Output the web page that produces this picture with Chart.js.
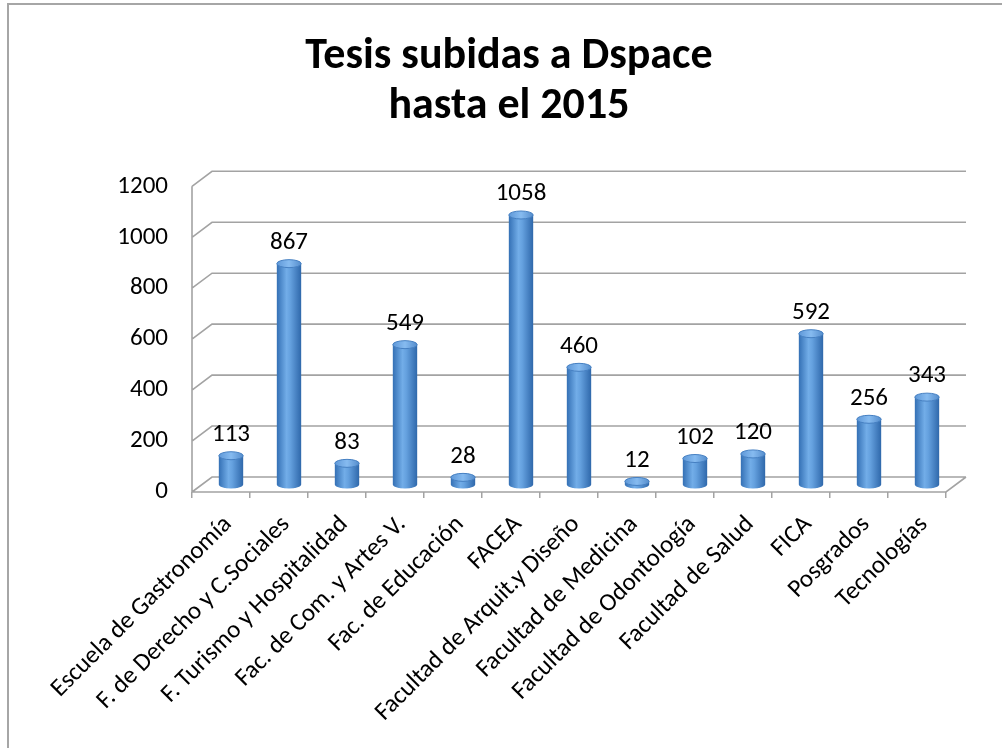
<!DOCTYPE html>
<html>
<head>
<meta charset="utf-8">
<script src="https://cdn.jsdelivr.net/npm/chart.js@4.4.1/dist/chart.umd.min.js"></script>
<style>
  html, body { margin: 0; padding: 0; background: #fff; }
  #wrap { position: relative; width: 1002px; height: 748px; overflow: hidden; }
  #marco { position: absolute; left: 7px; top: 3px; right: -5px; bottom: -5px;
           border-left: 2px solid #a6a6a6; border-top: 2px solid #a6a6a6; }
  canvas { position: absolute; left: 0; top: 0; }
</style>
</head>
<body>
<div id="wrap">
  <div id="marco"></div>
  <canvas id="grafico" width="1002" height="748"></canvas>
</div>
<script>
// datos
const facultades = [
  "Escuela de Gastronomía",
  "F. de Derecho y C.Sociales",
  "F. Turismo y Hospitalidad",
  "Fac. de Com. y Artes V.",
  "Fac. de Educación",
  "FACEA",
  "Facultad de Arquit.y Diseño",
  "Facultad de Medicina",
  "Facultad de Odontología",
  "Facultad de Salud",
  "FICA",
  "Posgrados",
  "Tecnologías"
];
const tesis = [113, 867, 83, 549, 28, 1058, 460, 12, 102, 120, 592, 256, 343];
const ticksY = [0, 200, 400, 600, 800, 1000, 1200];

const FUENTE = "Carlito, Calibri, Lato, sans-serif";
// profundidad del efecto 3D (pared del fondo)
const DX = 20, DY = -15;

function cilindro(ctx, cx, top, bottom, w) {
  const rx = w / 2, ry = 4;
  const g = ctx.createLinearGradient(cx - rx, 0, cx + rx, 0);
  g.addColorStop(0, "#3470b5");
  g.addColorStop(0.4, "#72ade8");
  g.addColorStop(0.55, "#65a1df");
  g.addColorStop(1, "#2f68ab");
  ctx.fillStyle = g;
  ctx.beginPath();
  ctx.moveTo(cx - rx, top);
  ctx.lineTo(cx - rx, bottom);
  ctx.ellipse(cx, bottom, rx, ry, 0, Math.PI, 0, true);
  ctx.lineTo(cx + rx, top);
  ctx.closePath();
  ctx.fill();

  const gt = ctx.createLinearGradient(cx - rx, 0, cx + rx, 0);
  gt.addColorStop(0, "#5f98d8");
  gt.addColorStop(0.5, "#86bbf0");
  gt.addColorStop(1, "#558dcc");
  ctx.fillStyle = gt;
  ctx.beginPath();
  ctx.ellipse(cx, top, rx, ry, 0, 0, Math.PI * 2);
  ctx.fill();
  ctx.strokeStyle = "#4680c2";
  ctx.lineWidth = 1;
  ctx.stroke();
}

const efecto3d = {
  id: "efecto3d",
  beforeDatasetsDraw(chart) {
    const { ctx, chartArea: a, scales: { y } } = chart;
    ctx.save();
    ctx.strokeStyle = "#a3a3a3";
    ctx.lineWidth = 1.6;
    ctx.beginPath();
    ticksY.forEach(v => {
      const py = y.getPixelForValue(v);
      ctx.moveTo(a.left, py);
      ctx.lineTo(a.left + DX, py + DY);
      ctx.lineTo(a.right + DX, py + DY);
    });
    // eje frontal y piso
    ctx.moveTo(a.left, a.top);
    ctx.lineTo(a.left, a.bottom);
    ctx.lineTo(a.right, a.bottom);
    ctx.lineTo(a.right + DX, a.bottom + DY);
    ctx.stroke();
    ctx.restore();
  },
  afterDatasetsDraw(chart) {
    const { ctx } = chart;
    const meta = chart.getDatasetMeta(0);
    ctx.save();
    meta.data.forEach((bar, i) => {
      const cx = bar.x + DX / 2;
      const top = bar.y + DY / 2;
      const bottom = bar.base + DY / 2;
      cilindro(ctx, cx, top, bottom, bar.width);
      ctx.fillStyle = "#000";
      ctx.font = "25px " + FUENTE;
      ctx.textAlign = "center";
      ctx.textBaseline = "middle";
      ctx.fillText(String(tesis[i]), cx, top - 21);
    });
    ctx.restore();
  }
};

new Chart(document.getElementById("grafico"), {
  type: "bar",
  data: {
    labels: facultades,
    datasets: [{
      label: "Tesis",
      data: tesis,
      backgroundColor: "rgba(0,0,0,0)",
      borderWidth: 0,
      categoryPercentage: 1,
      barPercentage: 0.42
    }]
  },
  options: {
    responsive: false,
    animation: false,
    layout: { padding: { left: 16, right: 0, top: 0, bottom: 0 } },
    plugins: {
      legend: { display: false },
      tooltip: { enabled: false },
      title: {
        display: true,
        text: ["Tesis subidas a Dspace", "hasta el 2015"],
        color: "#000",
        font: { family: FUENTE, size: 44, weight: "bold", lineHeight: 1.14 },
        padding: { top: 32, bottom: 54 }
      }
    },
    scales: {
      x: {
        grid: { display: true, drawOnChartArea: false, drawTicks: true, tickLength: 6, color: "#a3a3a3", lineWidth: 1.5 },
        border: { display: false },
        ticks: {
          color: "#000",
          font: { family: FUENTE, size: 25 },
          minRotation: 45,
          maxRotation: 45,
          autoSkip: false,
          padding: 12,
          labelOffset: 7
        },
        afterFit(scale) {
          scale.height = 256;
          scale.paddingLeft = 0;
          scale.paddingRight = 56;
        }
      },
      y: {
        min: 0,
        max: 1200,
        grid: { display: false, drawTicks: false },
        border: { display: false },
        ticks: {
          stepSize: 200,
          color: "#000",
          font: { family: FUENTE, size: 25 },
          padding: 24,
          callback: v => String(v)
        },
        afterFit(scale) {
          scale.width = 176;
          scale.paddingTop = 0;
          scale.paddingBottom = 0;
        }
      }
    }
  },
  plugins: [efecto3d]
});
</script>
</body>
</html>
